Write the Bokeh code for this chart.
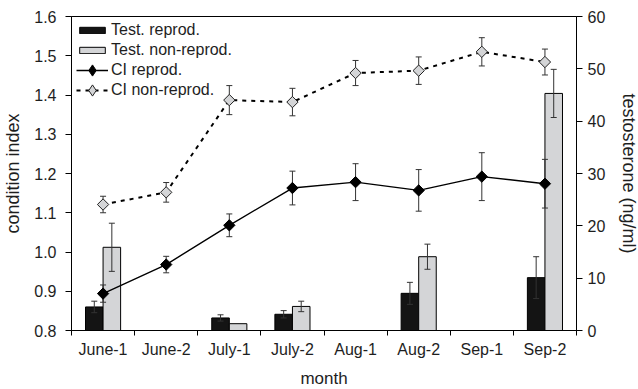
import numpy as np
from bokeh.plotting import figure
from bokeh.models import (Range1d, LinearAxis, FixedTicker, ColumnDataSource, Legend,
                          LegendItem, CustomJSTickFormatter, NumeralTickFormatter)
from bokeh.embed import file_html
from bokeh.resources import INLINE

# ---------------- data ----------------
months = ["June-1", "June-2", "July-1", "July-2", "Aug-1", "Aug-2", "Sep-1", "Sep-2"]
test_reprod = [4.5, None, 2.4, 3.1, None, 7.1, None, 10.1]
test_reprod_err = [1.1, None, 0.6, 0.7, None, 2.1, None, 4.0]
test_nonrep = [15.9, None, 1.3, 4.6, None, 14.1, None, 45.3]
test_nonrep_err = [4.6, None, 0.0, 1.0, None, 2.4, None, 4.6]
ci_reprod = [0.894, 0.968, 1.068, 1.163, 1.178, 1.157, 1.192, 1.174]
ci_reprod_err = [0.022, 0.021, 0.029, 0.043, 0.047, 0.053, 0.061, 0.062]
ci_nonrep = [1.121, 1.152, 1.387, 1.382, 1.456, 1.462, 1.510, 1.484]
ci_nonrep_err = [0.021, 0.025, 0.037, 0.035, 0.032, 0.035, 0.036, 0.033]
ci_ticks = [0.8, 0.9, 1.0, 1.1, 1.2, 1.3, 1.4, 1.5, 1.6]
test_ticks = [0, 10, 20, 30, 40, 50, 60]

FONT = "Liberation Sans"
FS = "16px"
TXT = "#1e1e1e"
BLACK_BAR = "#141414"
GREY_BAR = "#d4d5d7"
ERR = "#333333"
BAR_W = 0.278
OFF = 0.139
FRAME_W, FRAME_H = 505, 314

centers = [i + 0.5 for i in range(len(months))]


def bar_source(vals, errs, offset):
    x, top, lo, hi = [], [], [], []
    for c, v, e in zip(centers, vals, errs):
        if v is None:
            continue
        x.append(c + offset)
        top.append(v)
        lo.append(v - (e or 0))
        hi.append(v + (e or 0))
    return ColumnDataSource(dict(x=x, top=top, lo=lo, hi=hi))


def err_source(vals, errs):
    return ColumnDataSource(dict(
        x=centers, y=vals,
        lo=[v - e for v, e in zip(vals, errs)],
        hi=[v + e for v, e in zip(vals, errs)]))


p = figure(frame_width=FRAME_W, frame_height=FRAME_H, output_backend="svg",
           toolbar_location=None,
           x_range=Range1d(0, 8), y_range=Range1d(0.8, 1.6),
           min_border_left=64, min_border_right=0, min_border_top=16, min_border_bottom=0,
           background_fill_color="white", border_fill_color="white")
p.extra_y_ranges = {"t": Range1d(0, 60)}
p.xgrid.visible = False
p.ygrid.visible = False
p.outline_line_color = "black"
p.outline_line_width = 1

# ---------------- bars ----------------
src_r = bar_source(test_reprod, test_reprod_err, -OFF)
src_n = bar_source(test_nonrep, test_nonrep_err, OFF)
bar_r = p.vbar(x="x", top="top", bottom=0, width=BAR_W, source=src_r, y_range_name="t",
               fill_color=BLACK_BAR, line_color="black", line_width=1)
bar_n = p.vbar(x="x", top="top", bottom=0, width=BAR_W, source=src_n, y_range_name="t",
               fill_color=GREY_BAR, line_color="black", line_width=1)

for src in (src_r, src_n):
    d = src.data
    keep = [i for i in range(len(d["x"])) if d["hi"][i] > d["top"][i]]
    es = ColumnDataSource(dict(x=[d["x"][i] for i in keep],
                               lo=[d["lo"][i] for i in keep],
                               hi=[d["hi"][i] for i in keep]))
    p.segment(x0="x", x1="x", y0="lo", y1="hi", source=es, y_range_name="t",
              line_color=ERR, line_width=1)
    for col in ("hi", "lo"):
        p.scatter(x="x", y=col, source=es, marker="dash", size=6, y_range_name="t",
                  line_color=ERR, line_width=1)

# ---------------- CI lines ----------------
src_cr = err_source(ci_reprod, ci_reprod_err)
src_cn = err_source(ci_nonrep, ci_nonrep_err)

line_n = p.line(x="x", y="y", source=src_cn, line_color="black", line_width=2,
                line_dash="4 5")
line_r = p.line(x="x", y="y", source=src_cr, line_color="black", line_width=1.4)

for src in (src_cn, src_cr):
    p.segment(x0="x", x1="x", y0="lo", y1="hi", source=src,
              line_color=ERR, line_width=1)
    for col in ("hi", "lo"):
        p.scatter(x="x", y=col, source=src, marker="dash", size=6,
                  line_color=ERR, line_width=1)

mk_n = p.scatter(x="x", y="y", source=src_cn, marker="square", angle=np.pi / 4, size=8,
                 fill_color=GREY_BAR, line_color="#222222", line_width=1)
mk_r = p.scatter(x="x", y="y", source=src_cr, marker="square", angle=np.pi / 4, size=8,
                 fill_color="black", line_color="black", line_width=1)

# legend-only diamond glyphs (the legend cannot rotate markers); NaN point is not drawn
hidden = ColumnDataSource(dict(x=[float("nan")], y=[float("nan")]))
lg_r = p.scatter(x="x", y="y", source=hidden, marker="diamond",
                 fill_color="black", line_color="black", line_width=1)
lg_n = p.scatter(x="x", y="y", source=hidden, marker="diamond",
                 fill_color=GREY_BAR, line_color="#222222", line_width=1)

# ---------------- axes ----------------
xa = p.xaxis[0]
xa.ticker = FixedTicker(ticks=centers, minor_ticks=list(range(len(months) + 1)))
xa.formatter = CustomJSTickFormatter(args=dict(labels=months),
                                     code="return labels[Math.floor(tick)] || '';")
xa.axis_label = "month"

ya = p.yaxis[0]
ya.ticker = FixedTicker(ticks=ci_ticks)
ya.formatter = NumeralTickFormatter(format="0.0")
ya.axis_label = "condition index"

ra = LinearAxis(y_range_name="t", ticker=FixedTicker(ticks=test_ticks),
                axis_label="testosterone (ng/ml)")
p.add_layout(ra, "right")

for ax in (xa, ya, ra):
    ax.axis_line_color = "black"
    ax.major_tick_out = 6
    ax.major_tick_in = 0
    ax.minor_tick_line_color = None
    ax.major_label_text_font = FONT
    ax.major_label_text_font_size = FS
    ax.major_label_text_color = TXT
    ax.axis_label_text_font = FONT
    ax.axis_label_text_font_size = "18px"
    ax.axis_label_text_font_style = "normal"
    ax.axis_label_text_color = TXT
    ax.axis_label_standoff = 6

xa.major_tick_line_color = None
xa.minor_tick_line_color = "black"
xa.minor_tick_out = 5
xa.minor_tick_in = 0
xa.major_label_standoff = 4
xa.axis_label_standoff = 8
xa.axis_label_text_font_size = "17px"
ya.major_label_standoff = 9
ya.axis_label_standoff = 8
ra.major_label_standoff = 5
ra.axis_label_standoff = 11

# ---------------- legends ----------------
common = dict(margin=0, padding=2, spacing=0, glyph_width=32, label_height=20,
              label_standoff=3, label_text_font=FONT, label_text_font_size=FS,
              label_text_color=TXT, background_fill_alpha=0, border_line_color=None)
legend_bars = Legend(items=[
    LegendItem(label="Test. reprod.", renderers=[bar_r]),
    LegendItem(label="Test. non-reprod.", renderers=[bar_n]),
], location=(5, FRAME_H - 44), glyph_height=8, **common)
legend_ci_r = Legend(items=[
    LegendItem(label="CI reprod.", renderers=[line_r, lg_r]),
], location=(5, FRAME_H - 36 - 32), glyph_height=28, **common)
legend_ci_n = Legend(items=[
    LegendItem(label="CI non-reprod.", renderers=[line_n, lg_n]),
], location=(5, FRAME_H - 56 - 32), glyph_height=28, **common)
for lg in (legend_bars, legend_ci_r, legend_ci_n):
    p.add_layout(lg, "center")

open("out.html", "w").write(file_html(p, INLINE))
